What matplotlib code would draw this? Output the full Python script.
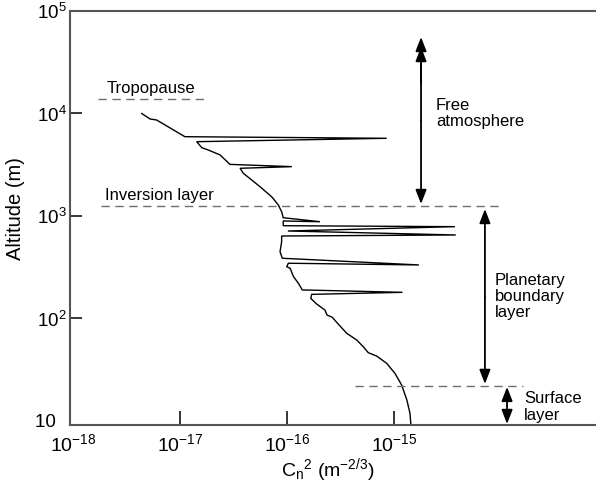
import matplotlib
matplotlib.use("Agg")
import matplotlib.pyplot as plt

plt.rcParams['font.family'] = ['Liberation Sans', 'DejaVu Sans']
plt.rcParams['mathtext.default'] = 'regular'

# Cn^2 profile (m^-2/3) versus altitude (m)
cn2 = [4.39e-18, 5.25e-18, 6.05e-18, 1.11e-17, 8.55e-16, 1.43e-17, 1.60e-17,
       1.84e-17, 2.37e-17, 2.93e-17, 1.11e-16, 3.64e-17, 3.91e-17, 5.60e-17,
       7.24e-17, 8.30e-17, 8.91e-17, 9.22e-17, 2.03e-16, 9.22e-17, 9.22e-17,
       3.72e-15, 1.02e-16, 3.78e-15, 8.91e-17, 8.91e-17, 8.61e-17, 9.04e-17,
       1.71e-15, 1.03e-16, 9.93e-17, 1.07e-16, 1.15e-16, 1.28e-16, 1.39e-16,
       1.20e-15, 1.70e-16, 1.67e-16, 1.90e-16, 2.26e-16, 2.37e-16, 2.64e-16,
       3.13e-16, 3.61e-16, 4.48e-16, 5.16e-16, 5.75e-16, 6.89e-16, 8.55e-16,
       1.02e-15, 1.18e-15, 1.32e-15, 1.41e-15, 1.44e-15]
alt_m = [10000, 8840, 8640, 5940, 5730, 5310, 4640,
         4400, 3940, 3190, 3030, 2920, 2610, 1930,
         1530, 1280, 1100, 962, 880, 894, 804,
         787, 714, 653, 638, 561, 449, 387,
         333, 346, 320, 309, 256, 220, 190,
         180, 172, 157, 138, 121, 108, 103,
         84.5, 71.8, 61.7, 53.1, 46.4, 43.0, 36.5,
         29.2, 22.4, 16.0, 11.9, 9.15]

# layer boundaries (altitude m) and their dashed extents in Cn^2
tropopause_alt = 14000
tropopause_x = [1.71e-18, 1.71e-17]
inversion_alt = 1250
inversion_x = [1.83e-18, 1.05e-14]
surface_alt = 22
surface_x = [4.33e-16, 1.61e-14]

xtick_vals = [1e-18, 1e-17, 1e-16, 1e-15]
xtick_labels = ['$10^{-18}$', '$10^{-17}$', '$10^{-16}$', '$10^{-15}$']
ytick_vals = [10, 1e2, 1e3, 1e4, 1e5]
ytick_labels = ['10  ', '$10^{2}$', '$10^{3}$', '$10^{4}$', '$10^{5}$']

fig = plt.figure(figsize=(5.96, 4.90), dpi=100)
ax = fig.add_axes([70/596, 65/490, 526/596, 414/490])
ax.set_xscale('log')
ax.set_yscale('log')
ax.set_xlim(9.37e-19, 7.73e-14)
ax.set_ylim(9.14, 1e5)

ax.plot(cn2, alt_m, color='black', lw=1.0, solid_joinstyle='miter')

dash_kw = dict(color='#6e6e6e', lw=1.0, dashes=(6, 4))
ax.plot(tropopause_x, [tropopause_alt]*2, **dash_kw)
ax.plot(inversion_x, [inversion_alt]*2, **dash_kw)
ax.plot(surface_x, [surface_alt]*2, **dash_kw)

tfs = 12
ax.text(2.08e-18, 17700, 'Tropopause', fontsize=tfs, va='center', ha='left')
ax.text(1.99e-18, 1600, 'Inversion layer', fontsize=tfs, va='center', ha='left')
ax.text(2.47e-15, 10000, 'Free\natmosphere', fontsize=tfs, va='center', ha='left', linespacing=1.1)
ax.text(8.8e-15, 163, 'Planetary\nboundary\nlayer', fontsize=tfs, va='center', ha='left', linespacing=1.1)
ax.text(1.64e-14, 13.7, 'Surface\nlayer', fontsize=tfs, va='center', ha='left', linespacing=1.1)

arrow_kw = dict(arrowstyle='-|>,head_length=0.85,head_width=0.33', color='black', lw=1.3,
                shrinkA=0, shrinkB=0)
def vline_arrows(x, y_low, y_high):
    mid = (y_low * y_high) ** 0.5
    ax.annotate('', xy=(x, y_high), xytext=(x, mid), arrowprops=arrow_kw)
    ax.annotate('', xy=(x, y_low), xytext=(x, mid), arrowprops=arrow_kw)

vline_arrows(1.79e-15, 1310, 55700)
ax.annotate('', xy=(1.79e-15, 44500), xytext=(1.79e-15, 20000), arrowprops=arrow_kw)
vline_arrows(7.08e-15, 23, 1170)
vline_arrows(1.14e-14, 9.35, 21.5)

ax.spines['right'].set_visible(False)
for side in ['top', 'left', 'bottom']:
    ax.spines[side].set_color('#555555')
    ax.spines[side].set_linewidth(1.5)

ax.minorticks_off()
ax.set_xticks(xtick_vals)
ax.set_xticklabels(xtick_labels)
ax.set_yticks(ytick_vals)
ax.set_yticklabels(ytick_labels)
ax.tick_params(axis='x', direction='in', length=10, width=1.1, labelsize=14, pad=6, top=False)
ax.tick_params(axis='y', direction='in', length=8.5, width=1.1, labelsize=13.5, pad=2.5, right=False)
ax.xaxis.get_major_ticks()[0].tick1line.set_visible(False)
ax.yaxis.get_major_ticks()[0].tick1line.set_visible(False)
ax.yaxis.get_major_ticks()[-1].tick1line.set_visible(False)

ax.set_xlabel('C$_n$$^2$ (m$^{-2/3}$)', fontsize=14)
ax.xaxis.set_label_coords(0.49, -0.074)
ax.set_ylabel('Altitude (m)', fontsize=14.5)
ax.yaxis.set_label_coords(-0.086, 0.524)

fig.savefig('out.png', dpi=100)
